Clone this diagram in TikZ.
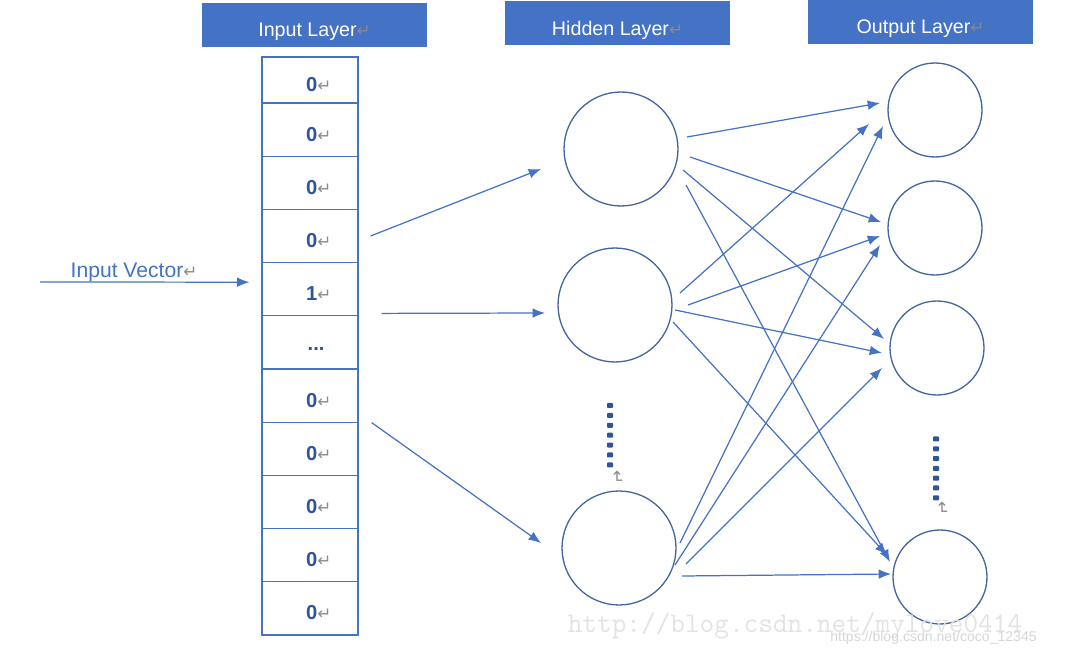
\documentclass[tikz,border=0pt]{standalone}
\usepackage{fontspec}
\setmainfont{Liberation Sans}
\newfontfamily\retfont{DejaVu Sans}
\usetikzlibrary{arrows.meta,calc}

\definecolor{layerblue}{HTML}{4472C4}
\definecolor{neurondraw}{HTML}{45659E}
\definecolor{digitblue}{HTML}{2F5597}
\definecolor{retgray}{HTML}{8A8A8A}
\definecolor{markgray}{HTML}{E3E3E3}
\definecolor{marklight}{HTML}{D6D6D6}

\newcommand{\retmark}{{\retfont\fontsize{9.5}{10}\selectfont\color{retgray}↵}}
\newcommand{\cellval}[1]{\hspace*{10pt}\textbf{#1}\retmark}

\tikzset{
  layer/.style={fill=layerblue, text=white, minimum width=4.5cm, minimum height=0.88cm,
    inner sep=0pt, text height=13.6pt, text depth=0pt, font=\fontsize{11.2}{13}\selectfont},
  cell/.style={draw=layerblue, line width=0.7pt, minimum width=1.92cm, minimum height=1.064cm,
    inner sep=0pt, text=digitblue, text height=13pt, text depth=0pt,
    font=\fontsize{11.5}{13}\selectfont},
  hid/.style={circle, draw=neurondraw, line width=0.75pt, minimum size=2.28cm, inner sep=0pt},
  outn/.style={circle, draw=neurondraw, line width=0.75pt, minimum size=1.88cm, inner sep=0pt},
  arr/.style={draw=layerblue, line width=0.7pt, -{Latex[length=7pt,width=5.5pt]}},
}

\begin{document}
\begin{tikzpicture}[x=0.02cm, y=-0.02cm]
  \useasboundingbox (0,0) rectangle (1074,661);

  % layer titles
  \node[layer] (inl) at (314.5,25) {Input Layer\retmark};
  \node[layer] (hidl) at (617.5,23.5) {Hidden Layer\retmark};
  \node[layer] (outl) at (920.5,22) {Output Layer\retmark};

  % one-hot input
  \node[cell, minimum height=0.92cm] (c1) at (310,80) {\cellval{0}};
  \node[cell] (c2) at (310,129.6) {\cellval{0}};
  \node[cell] (c3) at (310,182.8) {\cellval{0}};
  \node[cell] (c4) at (310,236) {\cellval{0}};
  \node[cell] (c5) at (310,289.2) {\cellval{1}};
  \node[cell] (c6) at (310,342.4) {\hspace*{7pt}\raisebox{2pt}{\textbf{...}}};
  \node[cell] (c7) at (310,395.6) {\cellval{0}};
  \node[cell] (c8) at (310,448.8) {\cellval{0}};
  \node[cell] (c9) at (310,502) {\cellval{0}};
  \node[cell] (c10) at (310,555.2) {\cellval{0}};
  \node[cell] (c11) at (310,608.4) {\cellval{0}};

  \node[text=layerblue, font=\fontsize{12}{14}\selectfont, inner sep=0pt] (vec) at (134,272) {Input Vector\retmark};
  \coordinate (vecstart) at (40,282);

  % hidden layer
  \node[hid] (h1) at (621,149) {};
  \node[hid] (h2) at (615,305) {};
  \node[hid] (h3) at (619,548) {};

  % output layer
  \node[outn] (o1) at (935,110) {};
  \node[outn] (o2) at (935,228) {};
  \node[outn] (o3) at (937,348) {};
  \node[outn] (o4) at (940,577) {};

  % vertical dots
  \coordinate (hdots) at (610,405.5);
  \coordinate (odots) at (936,439);
  \foreach \k in {0,...,6} {
    \fill[digitblue, rounded corners=0.5pt] ($(hdots)+(-3,9.9*\k-2.5)$) rectangle ++(6,5);
    \fill[digitblue, rounded corners=0.5pt] ($(odots)+(-3,9.8*\k-2.5)$) rectangle ++(6,5);
  }
  \node[rotate=-90, inner sep=0pt] (hmark) at (617,477) {\retmark};
  \node[rotate=-90, inner sep=0pt] (omark) at (942,508) {\retmark};

  \draw[arr] (vecstart) -- ($(c5.west)+(-12,-7)$);

  % input to hidden
  \draw[arr] ($(c4.east)+(12,0)$) -- ($(h1)+(-80,20)$);
  \draw[arr] ($(c5.south east)+(23,-3)$) -- ($(h2)+(-70,8)$);
  \draw[arr] ($(c8.north east)+(13,1)$) -- ($(h3)+(-78,-5)$);

  % hidden to output
  \draw[arr] ($(h1)+(66,-12)$) -- ($(o1)+(-55,-7)$);
  \draw[arr] ($(h1)+(69,8)$) -- ($(o2)+(-54,-6)$);
  \draw[arr] ($(h1)+(62,21)$) -- ($(o3)+(-53,-9)$);
  \draw[arr] ($(h1)+(65,36)$) -- ($(o4)+(-50,-15)$);
  \draw[arr] ($(h2)+(65,-12)$) -- ($(o1)+(-66,14)$);
  \draw[arr] ($(h2)+(73,0)$) -- ($(o2)+(-55,8)$);
  \draw[arr] ($(h2)+(60,5)$) -- ($(o3)+(-55,5)$);
  \draw[arr] ($(h2)+(58,17)$) -- ($(o4)+(-53,-22)$);
  \draw[arr] ($(h3)+(61,-5)$) -- ($(o1)+(-52,16)$);
  \draw[arr] ($(h3)+(56,17)$) -- ($(o2)+(-55,17)$);
  \draw[arr] ($(h3)+(67,16)$) -- ($(o3)+(-55,20)$);
  \draw[arr] ($(h3)+(63,28)$) -- ($(o4)+(-49,-3)$);

  % watermarks
  \node[text=markgray, font=\ttfamily\fontsize{16.2}{18}\selectfont, inner sep=0pt] (wm1) at (795,626) {http://blog.csdn.net/mylove0414};
  \node[text=marklight, font=\fontsize{8}{10}\selectfont, inner sep=0pt] (wm2) at (933.5,638) {https://blog.csdn.net/coco\_12345};
\end{tikzpicture}
\end{document}
